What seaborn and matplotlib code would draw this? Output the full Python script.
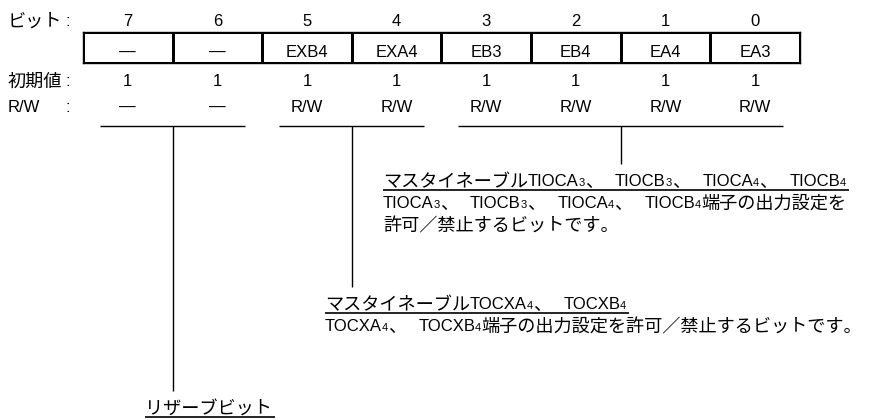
import numpy as np
import matplotlib.pyplot as plt
import seaborn as sns
from matplotlib.colors import ListedColormap

# register contents
bits = [7, 6, 5, 4, 3, 2, 1, 0]
names = ["—", "—", "EXB4", "EXA4", "EB3", "EB4", "EA4", "EA3"]
init_vals = [1, 1, 1, 1, 1, 1, 1, 1]
rw = ["—", "—", "R/W", "R/W", "R/W", "R/W", "R/W", "R/W"]
row_labels = ["ビット", "初期値", "R/W"]

# bit groups and their descriptions ("_3" = subscript 3)
group_bits = [(7, 6), (5, 4), (3, 0)]
group_titles = [
    "リザーブビット",
    "マスタイネーブルTOCXA_4、TOCXB_4",
    "マスタイネーブルTIOCA_3、TIOCB_3、TIOCA_4、TIOCB_4",
]
group_desc = [
    [],
    ["TOCXA_4、TOCXB_4端子の出力設定を許可／禁止するビットです。"],
    ["TIOCA_3、TIOCB_3、TIOCA_4、TIOCB_4端子の出力設定を", "許可／禁止するビットです。"],
]

# layout (pixels)
W, H = 879, 420
CELL_X0, CELL_W = 83, 89.6
BOX_Y0, BOX_Y1 = 32, 63
ROW_Y = {"bit": 26, "init": 86, "rw": 112}
BRACKET_Y = 126
BRACKET_INSET = 17
group_text_x = [145, 325, 383]
group_title_y = [413, 309, 186]
LINE_GAP = 22
COMMA_GAP = 12  # extra space after "、" before latin text

LATIN = "Liberation Sans"
CJK = "Noto Sans CJK JP"
FS = 12
FS_CJK = 13.1
FS_SUB = 8

sns.set_theme(style="white")
plt.rcParams["font.family"] = [LATIN, CJK, "DejaVu Sans"]


def col_center(i):
    return CELL_X0 + (i + 0.5) * CELL_W


def split_runs(s):
    runs = []
    i = 0
    while i < len(s):
        ch = s[i]
        if ch == "_":
            runs.append([s[i + 1], "sub"])
            i += 2
            continue
        kind = "cjk" if ord(ch) >= 0x3000 else "latin"
        if runs and runs[-1][1] == kind:
            runs[-1][0] += ch
        else:
            runs.append([ch, kind])
        i += 1
    return runs


def draw_runs(ax, x, y, s, renderer):
    prev = ""
    for text, kind in split_runs(s):
        if prev.endswith("、") and kind != "cjk":
            x += COMMA_GAP
        if kind == "cjk":
            t = ax.text(x, y + 1, text, family=[CJK], fontsize=FS_CJK, va="baseline", color="black")
        elif kind == "sub":
            t = ax.text(x, y, text, family=[LATIN], fontsize=FS_SUB, va="baseline", color="black")
        else:
            t = ax.text(x, y, text, family=[LATIN], fontsize=FS, va="baseline", color="black")
        x += t.get_window_extent(renderer).width
        prev = text
    return x


fig = plt.figure(figsize=(W / 100, H / 100), dpi=100)
ax = fig.add_axes([0, 0, 1, 1])
ax.set_xlim(0, W)
ax.set_ylim(H, 0)
ax.axis("off")
renderer = fig.canvas.get_renderer()

# row labels
for lab, key in zip(row_labels, ["bit", "init", "rw"]):
    is_cjk = ord(lab[0]) >= 0x3000
    ax.text(8, ROW_Y[key] + (1 if is_cjk else 0), lab, family=[CJK] if is_cjk else [LATIN],
            fontsize=FS_CJK if is_cjk else FS, va="baseline", color="black")
    ax.text(68, ROW_Y[key], ":", family=[LATIN], fontsize=FS, ha="center", va="baseline", color="black")

# bit numbers, initial values, R/W
for i, b in enumerate(bits):
    cx = col_center(i)
    ax.text(cx, ROW_Y["bit"], str(b), ha="center", va="baseline", fontsize=FS, family=[LATIN], color="black")
    ax.text(cx, ROW_Y["init"], str(init_vals[i]), ha="center", va="baseline", fontsize=FS, family=[LATIN], color="black")
    ax.text(cx, ROW_Y["rw"], rw[i], ha="center", va="baseline", fontsize=FS, family=[LATIN], color="black")

# register cells as a one-row heatmap
ax_reg = fig.add_axes([CELL_X0 / W, 1 - BOX_Y1 / H, 8 * CELL_W / W, (BOX_Y1 - BOX_Y0) / H])
sns.heatmap(np.array([init_vals]), ax=ax_reg, cmap=ListedColormap(["white"]), cbar=False,
            annot=np.array([names]), fmt="", linewidths=1, linecolor="black",
            xticklabels=False, yticklabels=False,
            annot_kws=dict(fontsize=FS, family=[LATIN], color="black"))
for t in ax_reg.texts:
    t.set_va("baseline")
    t.set_y(0.81)
for s in ax_reg.spines.values():
    s.set_visible(True)
    s.set_linewidth(1)
    s.set_color("black")

# brackets, drop lines and descriptions
for g, (hi, lo) in enumerate(group_bits):
    i0, i1 = bits.index(hi), bits.index(lo)
    x0 = CELL_X0 + i0 * CELL_W + BRACKET_INSET
    x1 = CELL_X0 + (i1 + 1) * CELL_W - BRACKET_INSET
    xm = (x0 + x1) / 2
    ty = group_title_y[g]
    ax.hlines(BRACKET_Y, x0, x1, color="black", lw=1)
    ax.vlines(xm, BRACKET_Y, ty - 22, color="black", lw=1)
    tx = group_text_x[g]
    x_end = draw_runs(ax, tx, ty, group_titles[g], renderer)
    ax.hlines(ty + 3.5, tx, x_end + 3, color="black", lw=1.2)
    for k, line in enumerate(group_desc[g]):
        draw_runs(ax, tx, ty + LINE_GAP * (k + 1), line, renderer)

fig.savefig("out.png", dpi=100, facecolor="white")
